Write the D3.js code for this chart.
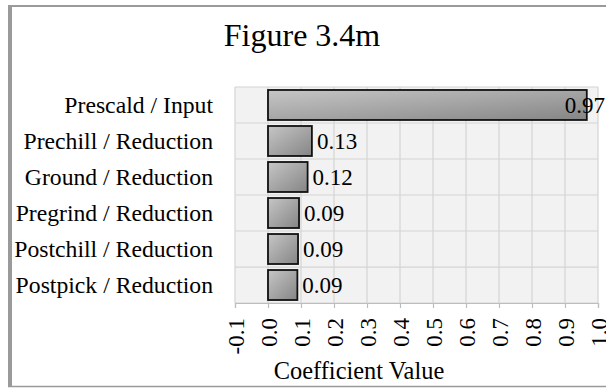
<!DOCTYPE html>
<html>
<head>
<meta charset="utf-8">
<script src="https://cdn.jsdelivr.net/npm/d3@7"></script>
<style>
  body { margin: 0; background: #fff; }
  text { font-family: "Liberation Serif", "Times New Roman", serif; fill: #000; }
</style>
</head>
<body>
<div id="chart"></div>
<script>
const categories = ["Prescald / Input", "Prechill / Reduction", "Ground / Reduction",
  "Pregrind / Reduction", "Postchill / Reduction", "Postpick / Reduction"];
const coefValues = [0.966, 0.133, 0.12, 0.094, 0.091, 0.089];
const tickValues = [-0.1, 0.0, 0.1, 0.2, 0.3, 0.4, 0.5, 0.6, 0.7, 0.8, 0.9, 1.0];

const width = 606, height = 388;
const plot = { left: 235, right: 598, top: 87, bottom: 303 };

const svg = d3.select("#chart").append("svg")
  .attr("width", width)
  .attr("height", height);

// frame
svg.append("line").attr("x1", 10).attr("x2", 10).attr("y1", 5).attr("y2", 387)
  .attr("stroke", "#9a9a9a").attr("stroke-width", 4);
svg.append("line").attr("x1", 8).attr("x2", width).attr("y1", 6).attr("y2", 6)
  .attr("stroke", "#9a9a9a").attr("stroke-width", 2);
svg.append("line").attr("x1", 8).attr("x2", width).attr("y1", 386.5).attr("y2", 386.5)
  .attr("stroke", "#9a9a9a").attr("stroke-width", 1.5);

// title
svg.append("text")
  .attr("x", 302).attr("y", 46)
  .attr("text-anchor", "middle")
  .style("font-size", "32px")
  .text("Figure 3.4m");

const x = d3.scaleLinear().domain([-0.1, 1.0]).range([plot.left, plot.right]);
const y = d3.scaleBand().domain(categories).range([plot.top, plot.bottom])
  .paddingInner(0.167).paddingOuter(0.083);

// plot background
svg.append("rect")
  .attr("x", plot.left).attr("y", plot.top)
  .attr("width", plot.right - plot.left).attr("height", plot.bottom - plot.top)
  .attr("fill", "#f2f2f2");

// grid
svg.append("g").selectAll("line")
  .data(tickValues)
  .join("line")
  .attr("x1", d => x(d)).attr("x2", d => x(d))
  .attr("y1", plot.top).attr("y2", plot.bottom)
  .attr("stroke", "#d4d4d4").attr("stroke-width", 1.2);

svg.append("g").selectAll("line")
  .data(d3.range(categories.length + 1))
  .join("line")
  .attr("x1", plot.left).attr("x2", plot.right)
  .attr("y1", i => plot.top + i * y.step()).attr("y2", i => plot.top + i * y.step())
  .attr("stroke", "#d4d4d4").attr("stroke-width", 1.2);

// gradient for bars
const grad = svg.append("defs").append("linearGradient")
  .attr("id", "barGrad")
  .attr("x1", 0).attr("y1", 0).attr("x2", 1).attr("y2", 1);
grad.append("stop").attr("offset", "0%").attr("stop-color", "#c6c6c6");
grad.append("stop").attr("offset", "100%").attr("stop-color", "#858585");

// x axis (plain hyphen for the minus sign, like the original)
const tickFmt = d => d3.format(".1f")(d).replace("\u2212", "-");
const xAxis = svg.append("g")
  .attr("transform", `translate(0,${plot.bottom})`)
  .call(d3.axisBottom(x).tickValues(tickValues).tickFormat(tickFmt).tickSize(5));
xAxis.select(".domain").attr("stroke", "#bdbdbd").attr("stroke-width", 1.2);
xAxis.selectAll(".tick line").attr("stroke", "#bdbdbd").attr("stroke-width", 1.2);
xAxis.selectAll(".tick text")
  .style("font-family", "'Liberation Serif', serif")
  .style("font-size", "23px")
  .attr("fill", "#000")
  .attr("transform", "rotate(-90)")
  .attr("x", -15).attr("y", 0).attr("dy", "0.35em")
  .attr("text-anchor", "end");

// axis title
svg.append("text")
  .attr("x", 359).attr("y", 379)
  .attr("text-anchor", "middle")
  .style("font-size", "24.4px")
  .text("Coefficient Value");

// category labels
svg.append("g").selectAll("text")
  .data(categories)
  .join("text")
  .attr("x", 213)
  .attr("y", d => y(d) + y.bandwidth() / 2)
  .attr("dy", "0.33em")
  .attr("text-anchor", "end")
  .style("font-size", "23.7px")
  .text(d => d);

// bars
svg.append("g").selectAll("rect")
  .data(categories)
  .join("rect")
  .attr("x", x(0))
  .attr("y", d => y(d))
  .attr("width", (d, i) => x(coefValues[i]) - x(0))
  .attr("height", y.bandwidth())
  .attr("fill", "url(#barGrad)")
  .attr("stroke", "#111")
  .attr("stroke-width", 1.8);

// data labels
const fmt = d3.format(".2f");
svg.append("g").selectAll("text")
  .data(categories)
  .join("text")
  .attr("y", d => y(d) + y.bandwidth() / 2)
  .attr("dy", "0.36em")
  .style("font-size", "23px")
  .text((d, i) => fmt(coefValues[i]))
  .each(function(d, i) {
    const w = this.getComputedTextLength();
    let start = x(coefValues[i]) + 5;
    if (start + w > width - 1) start = width - 1 - w;
    d3.select(this).attr("x", start);
  });
</script>
</body>
</html>
